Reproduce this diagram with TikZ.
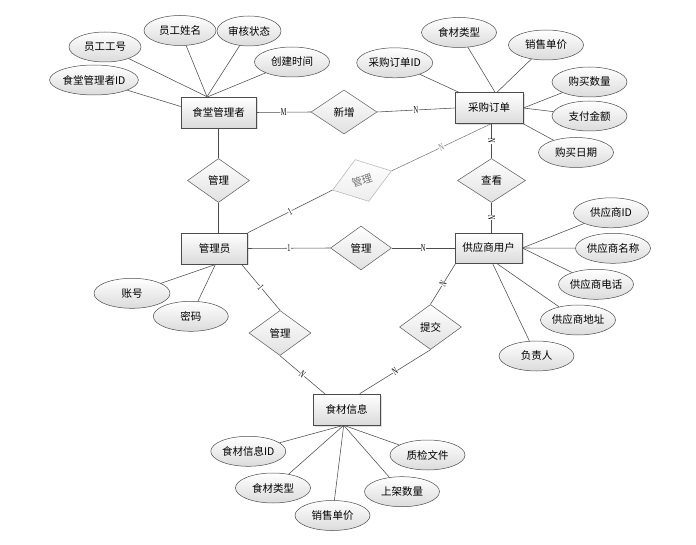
\documentclass[tikz,border=0pt]{standalone}
\usepackage{fontspec}
\newfontfamily\cjk{Noto Sans CJK SC}
\newfontfamily\labfont{Liberation Serif}
\usetikzlibrary{shapes.geometric,shadows}
\begin{document}
\begin{tikzpicture}[x=1pt,y=-1pt,
  every node/.style={font=\cjk\fontsize{10.5}{12}\selectfont, text=black},
  entity/.style={draw=black!70, line width=0.6pt, top color=white, bottom color=black!14,
    minimum height=31pt, inner sep=2pt,
    drop shadow={shadow xshift=1.5pt, shadow yshift=-1.5pt, opacity=0.25}},
  rel/.style={diamond, draw=black!65, line width=0.5pt, top color=white, bottom color=black!12,
    inner sep=0pt, minimum width=62pt, minimum height=44pt},
  relgray/.style={rel, draw=black!30, bottom color=black!7, text=black!55},
  attr/.style={ellipse, draw=black!70, line width=0.5pt, top color=white, bottom color=black!14,
    minimum width=75pt, minimum height=30pt, inner sep=0pt},
  conn/.style={draw=black!70, line width=0.55pt},
  conngray/.style={draw=black!55, line width=0.5pt},
  card/.style={font=\labfont\fontsize{10.5}{10.5}\selectfont, xscale=0.6, fill=white, inner sep=0.4pt, text=black, sloped, midway},
  cardgray/.style={card, text=black!50}]
\useasboundingbox (0,0) rectangle (696,545);

% entities
\node[entity, minimum width=75pt] (mgr) at (218.5,112.5) {食堂管理者};
\node[entity, minimum width=68pt] (order) at (489,108) {采购订单};
\node[entity, minimum width=66pt] (admin) at (214.5,248.5) {管理员};
\node[entity, minimum width=67pt, minimum height=30pt] (supp) at (488.5,248) {供应商用户};
\node[entity, minimum width=67pt] (food) at (346.7,409.5) {食材信息};

% relationships
\node[rel, minimum width=66pt] (add) at (344,112) {新增};
\node[rel] (m1) at (218.5,180.5) {管理};
\node[relgray, rotate=18] (m2) at (362,180.5) {管理};
\node[rel, minimum width=68pt] (view) at (491.5,180.5) {查看};
\node[rel, minimum width=61pt] (m3) at (361,248) {管理};
\node[rel, minimum height=45pt] (m4) at (280,333) {管理};
\node[rel, minimum height=45pt] (sub) at (430.5,327) {提交};

% attributes of 食堂管理者
\node[attr] (a1) at (94,80) {食堂管理者ID};
\node[attr, minimum width=72pt] (a2) at (105,47) {员工工号};
\node[attr, minimum width=72pt] (a3) at (180,30.5) {员工姓名};
\node[attr, minimum width=64pt] (a4) at (249,31) {审核状态};
\node[attr] (a5) at (292,62) {创建时间};
\coordinate (mgrtop) at ([xshift=-11.5pt]mgr.north);
\draw[conn] (a1) -- ([yshift=6pt]mgr.west);
\draw[conn] (a2) -- (mgrtop);
\draw[conn] (a3) -- (mgrtop);
\draw[conn] (a4) -- (mgrtop);
\draw[conn] (a5) -- ([xshift=1pt]mgrtop);

% attributes of 采购订单
\node[attr, minimum width=76pt] (b1) at (394.7,62.8) {采购订单ID};
\node[attr] (b2) at (459,32.5) {食材类型};
\node[attr] (b3) at (546,45) {销售单价};
\node[attr] (b4) at (589.5,82) {购买数量};
\node[attr] (b5) at (589.5,116) {支付金额};
\node[attr] (b6) at (576,152.5) {购买日期};
\draw[conn] (b1) -- ([xshift=4pt]order.north west);
\draw[conn] (b2) -- ([xshift=6pt]order.north);
\draw[conn] (b3) -- ([xshift=8pt]order.north);
\draw[conn] (b4) -- (order.east);
\draw[conn] (b5) -- (order.east);
\draw[conn] (b6) -- (order.south east);

% attributes of 管理员
\node[attr, minimum width=76pt] (c1) at (132,293.3) {账号};
\node[attr] (c2) at (190.8,316.3) {密码};
\draw[conn] (c1) -- ([xshift=1.5pt]admin.south);
\draw[conn] (c2) -- ([xshift=1pt]admin.south);

% attributes of 供应商用户
\node[attr] (d1) at (611,212.8) {供应商ID};
\node[attr] (d2) at (613,248.3) {供应商名称};
\node[attr] (d3) at (596,284.3) {供应商电话};
\node[attr] (d4) at (578,320) {供应商地址};
\node[attr] (d5) at (536.5,356) {负责人};
\draw[conn] (d1) -- (supp.east);
\draw[conn] (d2) -- (supp.east);
\draw[conn] (d3) -- (supp.east);
\draw[conn] (d4) -- ([xshift=8pt]supp.south);
\draw[conn] (d5) -- ([xshift=4pt]supp.south);

% attributes of 食材信息
\node[attr] (e1) at (248.3,451.3) {食材信息ID};
\node[attr] (e2) at (273,488) {食材类型};
\node[attr] (e3) at (332.5,515.5) {销售单价};
\node[attr] (e4) at (402,491.7) {上架数量};
\node[attr] (e5) at (427.5,455) {质检文件};
\coordinate (foodbot) at ([xshift=-3pt]food.south);
\draw[conn] (e1) -- (foodbot);
\draw[conn] (e2) -- (foodbot);
\draw[conn] (e3) -- (foodbot);
\draw[conn] (e4) -- (foodbot);
\draw[conn] (e5) -- (foodbot);

% relationship connectors
\draw[conn] (mgr.east) -- node[card]{M} (add.west);
\draw[conn] (add.east) -- node[card]{N} (order.west);
\draw[conn] (mgr.south) -- (m1.north);
\draw[conn] (m1.south) -- (m1.south |- admin.north);
\draw[conn] (admin.north east) -- node[card]{1} (m2.west);
\draw[conngray] (m2.east) -- node[cardgray]{N} ([xshift=2pt]order.south);
\draw[conn] (view.north |- order.south) -- node[card]{N} (view.north);
\draw[conn] (view.south) -- node[card]{N} (view.south |- supp.north);
\draw[conn] (admin.east) -- node[card]{1} (m3.west);
\draw[conn] (m3.east) -- node[card]{N} (supp.west);
\draw[conn] ([xshift=27pt]admin.south) -- node[card]{1} (m4.north);
\draw[conn] (m4.south) -- node[card]{N} ([xshift=-22pt]food.north);
\draw[conn] (sub.north) -- node[card]{N} ([xshift=1pt]supp.south west);
\draw[conn] (sub.south) -- node[card]{N} ([xshift=13pt]food.north);
\end{tikzpicture}
\end{document}
